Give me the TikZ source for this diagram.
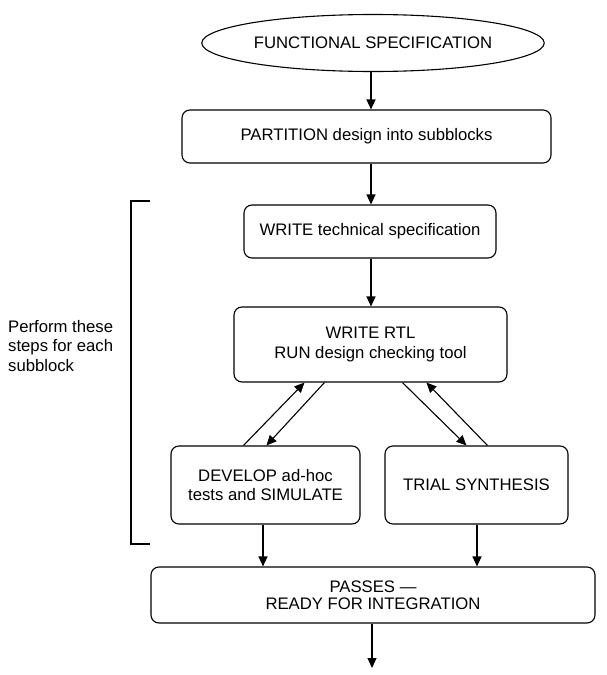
\documentclass[tikz,border=0pt]{standalone}
\usepackage{fontspec}
\setmainfont{Liberation Sans}
\usetikzlibrary{shapes.geometric,arrows.meta,calc}
\begin{document}
\begin{tikzpicture}[x=1pt,y=-1pt,
  every node/.style={font=\fontsize{16.7}{19.5}\selectfont, inner sep=2pt},
  box/.style={draw, line width=1.1pt, rounded corners=8pt, align=center},
  arr/.style={line width=1.1pt, -{Triangle[length=10pt,width=9pt]}},
  brk/.style={line width=1.1pt}]
\useasboundingbox (0,0) rectangle (606,675);
\node[draw, ellipse, line width=1.1pt, minimum width=340pt, minimum height=57pt] (spec) at (373,43) {FUNCTIONAL SPECIFICATION};
\node[box, minimum width=369pt, minimum height=53pt] (part) at (366.5,136.5) {PARTITION design into subblocks};
\node[box, minimum width=252pt, minimum height=53pt] (tech) at (370,231.5) {WRITE technical specification};
\node[box, minimum width=273pt, minimum height=75pt] (rtl) at (370.5,344.5) {WRITE RTL\\RUN design checking tool};
\node[box, minimum width=189pt, minimum height=78pt] (dev) at (265.5,485) {DEVELOP ad-hoc\\tests and SIMULATE};
\node[box, minimum width=183pt, minimum height=78pt] (trial) at (476.5,485) {TRIAL SYNTHESIS};
\node[box, minimum width=444pt, minimum height=56pt, font=\fontsize{16.7}{17.5}\selectfont] (pass) at (373,595) {PASSES ---\\READY FOR INTEGRATION};
\node[anchor=west, align=left] (perf) at (6,346) {Perform these\\steps for each\\subblock};
\coordinate (fin) at (372,668);
% start points of vertical arrows
\coordinate (s1) at ($(spec.south)+(-2,0)$);
\coordinate (s2) at ($(part.south)+(4.5,0)$);
\coordinate (s3) at ($(tech.south)+(1,0)$);
\coordinate (s4) at ($(dev.south)+(-2.5,0)$);
\coordinate (s5) at ($(trial.south)+(0.5,0)$);
% vertical arrows
\draw[arr] (s1) -- (s1 |- part.north);
\draw[arr] (s2) -- (s2 |- tech.north);
\draw[arr] (s3) -- (s3 |- rtl.north);
\draw[arr] (s4) -- (s4 |- pass.north);
\draw[arr] (s5) -- (s5 |- pass.north);
\draw[arr] (pass.south -| fin) -- (fin);
% diagonal arrows
\draw[arr] ($(dev.north west)+(73,0)$) -- ($(rtl.south west)+(71,0)$);
\draw[arr] ($(rtl.south west)+(91,0)$) -- ($(dev.north west)+(96,0)$);
\draw[arr] ($(rtl.south west)+(169,0)$) -- ($(trial.north west)+(82,0)$);
\draw[arr] ($(trial.north west)+(103,0)$) -- ($(rtl.south west)+(193,0)$);
% bracket
\draw[brk] (150,201) -- (131,201) -- (131,544) -- (150,544);
\end{tikzpicture}
\end{document}
